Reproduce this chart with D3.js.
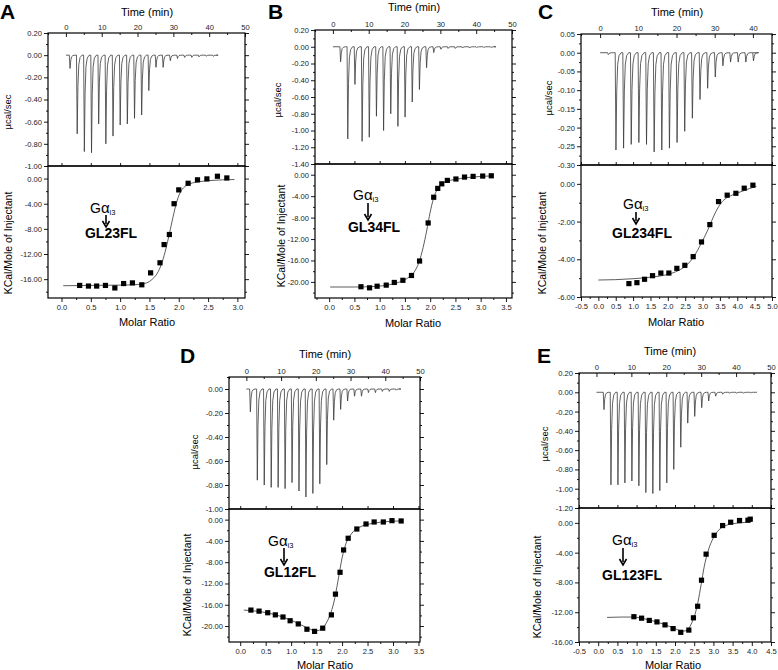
<!DOCTYPE html>
<html>
<head>
<meta charset="utf-8">
<script src="https://cdn.jsdelivr.net/npm/d3@7"></script>
<style>
  body { margin: 0; background: #fff; }
  svg { display: block; }
</style>
</head>
<body>
<div id="app"></div>
<script>
// ---- data ----
// raw thermograms: injection time (min) and peak height (ucal/sec)
const timeA = [1, 3, 5, 7, 9, 11, 13, 15, 17, 19, 21, 23, 25, 27, 29, 31, 33, 35, 37, 39, 41];
const peakA = [-0.12, -0.71, -0.87, -0.88, -0.62, -0.80, -0.73, -0.63, -0.62, -0.57, -0.54, -0.32, -0.11, -0.11, -0.05, -0.03, -0.02, -0.02, -0.015, -0.01, -0.01];
const timeB = [2, 4, 6, 8, 10, 12, 14, 16, 18, 20, 22, 24, 26, 28, 30, 32, 34, 36, 38, 40, 42, 44];
const peakB = [-0.18, -1.10, -0.45, -1.13, -1.08, -0.83, -1.00, -0.80, -0.95, -0.84, -0.66, -0.51, -0.25, -0.07, -0.03, -0.02, -0.02, -0.015, -0.015, -0.01, -0.01, -0.01];
const timeC = [2, 4, 6, 8, 10, 12, 14, 16, 18, 20, 22, 24, 26, 28, 30, 32, 34, 36, 38, 40];
const peakC = [-0.005, -0.26, -0.255, -0.245, -0.24, -0.245, -0.265, -0.26, -0.255, -0.24, -0.21, -0.175, -0.125, -0.095, -0.065, -0.035, -0.025, -0.025, -0.025, -0.022];
const timeD = [1, 3, 5, 7, 9, 11, 13, 15, 17, 19, 21, 23, 25, 27, 29, 31, 33, 35, 37, 39, 41, 43];
const peakD = [-0.19, -0.76, -0.80, -0.82, -0.82, -0.83, -0.78, -0.85, -0.90, -0.87, -0.79, -0.63, -0.26, -0.17, -0.10, -0.06, -0.06, -0.03, -0.03, -0.02, -0.02, -0.01];
const timeE = [2, 4, 6, 8, 10, 12, 14, 16, 18, 20, 22, 24, 26, 28, 30, 32, 34, 36, 38, 40, 42, 44];
const peakE = [-0.18, -0.96, -0.96, -0.94, -0.92, -0.97, -1.04, -1.05, -1.02, -0.94, -0.80, -0.57, -0.32, -0.25, -0.16, -0.09, -0.04, -0.02, -0.01, -0.01, -0.01, -0.005];

// integrated heats: molar ratio vs kcal/mol of injectant
const ratioA = [0.31, 0.46, 0.60, 0.75, 0.91, 1.06, 1.21, 1.37, 1.52, 1.68, 1.75, 1.84, 1.92, 2.00, 2.16, 2.32, 2.48, 2.66, 2.82];
const heatA = [-17.0, -17.1, -17.1, -17.0, -17.4, -16.7, -16.6, -16.9, -15.0, -13.4, -10.5, -8.9, -4.0, -1.8, -0.75, -0.2, -0.05, 0.37, 0.1];
const ratioB = [0.63, 0.80, 0.95, 1.13, 1.29, 1.46, 1.63, 1.79, 1.96, 2.07, 2.15, 2.23, 2.34, 2.51, 2.68, 2.85, 3.04, 3.21];
const heatB = [-20.9, -21.1, -20.8, -20.6, -20.1, -19.7, -18.8, -16.1, -9.0, -4.2, -2.55, -1.7, -1.06, -0.8, -0.44, -0.31, -0.25, -0.2];
const ratioC = [0.88, 1.11, 1.33, 1.56, 1.80, 2.03, 2.26, 2.49, 2.73, 2.97, 3.21, 3.46, 3.71, 3.96, 4.20, 4.45];
const heatC = [-5.29, -5.24, -5.06, -4.87, -4.73, -4.73, -4.48, -4.32, -3.86, -3.08, -2.16, -0.94, -0.60, -0.50, -0.23, -0.07];
const ratioD = [0.21, 0.37, 0.54, 0.69, 0.84, 0.98, 1.14, 1.31, 1.46, 1.62, 1.79, 1.87, 1.96, 2.03, 2.12, 2.29, 2.47, 2.63, 2.81, 2.98, 3.16];
const heatD = [-17.0, -17.2, -17.5, -17.9, -18.3, -19.0, -19.6, -20.6, -21.0, -20.4, -17.9, -14.0, -9.9, -5.7, -3.5, -1.76, -0.82, -0.44, -0.44, -0.19, -0.25];
const ratioE = [0.93, 1.13, 1.33, 1.53, 1.74, 1.95, 2.15, 2.36, 2.48, 2.59, 2.69, 2.81, 3.02, 3.24, 3.45, 3.68, 3.90, 3.96];
const heatE = [-12.6, -12.8, -13.1, -13.3, -13.7, -14.2, -14.7, -14.4, -12.75, -11.2, -7.7, -4.2, -1.67, -0.36, 0.09, 0.32, 0.36, 0.5];

// fitted curves, traced through the picture
const fitRatioA = [0.03, 0.5, 1.0, 1.3, 1.45, 1.55, 1.65, 1.72, 1.78, 1.84, 1.9, 1.96, 2.02, 2.1, 2.2, 2.35, 2.55, 2.75, 2.95];
const fitHeatA = [-17.05, -17.0, -16.95, -16.85, -16.6, -16.0, -14.8, -13.2, -11.2, -8.8, -6.2, -3.9, -2.3, -1.3, -0.8, -0.5, -0.3, -0.2, -0.15];
const fitRatioB = [0.02, 0.5, 0.9, 1.2, 1.4, 1.55, 1.68, 1.78, 1.86, 1.93, 2.0, 2.07, 2.15, 2.25, 2.4, 2.6, 2.85, 3.05, 3.21];
const fitHeatB = [-20.95, -20.95, -20.85, -20.5, -20.0, -19.3, -18.2, -16.3, -13.6, -10.5, -7.0, -4.3, -2.6, -1.6, -1.05, -0.7, -0.42, -0.3, -0.22];
const fitRatioC = [0.0, 0.5, 1.0, 1.5, 2.0, 2.3, 2.55, 2.75, 2.95, 3.15, 3.35, 3.5, 3.65, 3.85, 4.1, 4.35, 4.55];
const fitHeatC = [-5.10, -5.08, -5.03, -4.95, -4.8, -4.6, -4.3, -3.85, -3.2, -2.45, -1.6, -1.1, -0.8, -0.6, -0.42, -0.25, -0.13];
const fitRatioD = [0.07, 0.4, 0.7, 1.0, 1.2, 1.35, 1.48, 1.58, 1.68, 1.76, 1.84, 1.92, 2.0, 2.08, 2.18, 2.35, 2.6, 2.9, 3.15];
const fitHeatD = [-17.0, -17.3, -17.9, -18.9, -19.8, -20.5, -20.9, -20.7, -19.6, -18.0, -15.5, -11.5, -7.2, -4.4, -2.7, -1.4, -0.7, -0.35, -0.25];
const fitRatioE = [0.23, 0.6, 0.9, 1.3, 1.7, 2.0, 2.2, 2.32, 2.42, 2.52, 2.6, 2.68, 2.76, 2.86, 3.0, 3.15, 3.35, 3.6, 3.8, 4.0];
const fitHeatE = [-12.7, -12.65, -12.65, -13.0, -13.6, -14.2, -14.55, -14.4, -13.6, -12.3, -10.6, -8.3, -5.9, -3.8, -2.0, -0.9, -0.3, -0.05, 0.05, 0.2];

// tick labels
const timeTicks50 = [0, 10, 20, 30, 40, 50];
const timeTicks40 = [0, 10, 20, 30, 40];
const rawTicksA = [0.2, 0, -0.2, -0.4, -0.6, -0.8, -1.0];
const rawTicksB = [0.2, 0, -0.2, -0.4, -0.6, -0.8, -1.0, -1.2, -1.4];
const rawTicksC = [0.05, 0, -0.05, -0.10, -0.15, -0.20, -0.25, -0.30];
const rawTicksD = [0, -0.2, -0.4, -0.6, -0.8, -1.0];
const rawTicksE = [0.2, 0, -0.2, -0.4, -0.6, -0.8, -1.0, -1.2];
const heatTicks16 = [0, -4, -8, -12, -16];
const heatTicks20 = [0, -4, -8, -12, -16, -20];
const heatTicksC = [0, -2, -4, -6];
const ratioTicks30 = [0, 0.5, 1.0, 1.5, 2.0, 2.5, 3.0];
const ratioTicks35 = [0, 0.5, 1.0, 1.5, 2.0, 2.5, 3.0, 3.5];
const ratioTicksC = [-0.5, 0, 0.5, 1.0, 1.5, 2.0, 2.5, 3.0, 3.5, 4.0, 4.5, 5.0];
const ratioTicksE = [-0.5, 0, 0.5, 1.0, 1.5, 2.0, 2.5, 3.0, 3.5, 4.0, 4.5];

const FONT = '"Liberation Sans", Arial, Helvetica, sans-serif';

// layout of each panel
const panels = [
  { name: 'A', x0: 48, x1: 245, y0: 33, ym: 166, y1: 298,
    time: [-5, 50], raw: [-1.0, 0.2], heat: [-19, 2], ratio: [-0.23, 3.13], run: [0, 42],
    injT: timeA, injH: peakA, pX: ratioA, pY: heatA, fX: fitRatioA, fY: fitHeatA,
    tT: timeTicks50, rT: rawTicksA, hT: heatTicks16, mT: ratioTicks30,
    letter: [0, 19], timeTitle: [147, 16], molarTitle: [147, 326], ucal: [8, 112], kcal: [8, 243],
    sample: 'GL23FL', g: [90, 213], arrow: [106, 215, 227], gl: [111, 238] },
  { name: 'B', x0: 315, x1: 512, y0: 30, ym: 164, y1: 298,
    time: [-5, 50], raw: [-1.4, 0.2], heat: [-23, 2], ratio: [-0.28, 3.62], run: [0, 45],
    injT: timeB, injH: peakB, pX: ratioB, pY: heatB, fX: fitRatioB, fY: fitHeatB,
    tT: timeTicks50, rT: rawTicksB, hT: heatTicks20, mT: ratioTicks35,
    letter: [268, 19], timeTitle: [414, 11], molarTitle: [413, 327], ucal: [278, 100], kcal: [281, 236],
    sample: 'GL34FL', g: [353, 200], arrow: [368, 203, 220], gl: [374, 232] },
  { name: 'C', x0: 581, x1: 772, y0: 34, ym: 165, y1: 297,
    time: [-5, 45], raw: [-0.30, 0.05], heat: [-6, 1], ratio: [-0.5, 5.0], run: [0, 40],
    injT: timeC, injH: peakC, pX: ratioC, pY: heatC, fX: fitRatioC, fY: fitHeatC,
    tT: timeTicks40, rT: rawTicksC, hT: heatTicksC, mT: ratioTicksC,
    letter: [538, 19], timeTitle: [677, 16], molarTitle: [676, 326], ucal: [549, 98], kcal: [542, 243],
    sample: 'GL234FL', g: [623, 209], arrow: [636, 212, 224], gl: [642, 238] },
  { name: 'D', x0: 229, x1: 420, y0: 377, ym: 509, y1: 642,
    time: [-5, 50], raw: [-1.0, 0.1], heat: [-23, 2], ratio: [-0.22, 3.53], run: [0, 44],
    injT: timeD, injH: peakD, pX: ratioD, pY: heatD, fX: fitRatioD, fY: fitHeatD,
    tT: timeTicks50, rT: rawTicksD, hT: heatTicks20, mT: ratioTicks35,
    letter: [180, 363], timeTitle: [325, 358], molarTitle: [325, 669], ucal: [195, 452], kcal: [187, 585],
    sample: 'GL12FL', g: [268, 546], arrow: [284, 548, 565], gl: [290, 577] },
  { name: 'E', x0: 579, x1: 771, y0: 373, ym: 508, y1: 642,
    time: [-5, 50], raw: [-1.2, 0.2], heat: [-16, 2], ratio: [-0.5, 4.5], run: [0, 46],
    injT: timeE, injH: peakE, pX: ratioE, pY: heatE, fX: fitRatioE, fY: fitHeatE,
    tT: timeTicks50, rT: rawTicksE, hT: heatTicks16, mT: ratioTicksE,
    letter: [537, 363], timeTitle: [670, 355], molarTitle: [673, 669], ucal: [545, 444], kcal: [537, 587],
    sample: 'GL123FL', g: [612, 545], arrow: [623, 548, 565], gl: [632, 580] }
];

// shape of one injection peak: [minutes after injection, fraction of peak]
const spikeShape = [[-0.05, 0], [0.15, 1], [0.35, 0.4], [0.6, 0.12], [0.95, 0.03], [1.5, 0]];

const svg = d3.select('#app').append('svg')
  .attr('width', 778).attr('height', 670)
  .attr('font-family', FONT);

function minorOf(ticks, dom) {
  const s = Math.abs(ticks[1] - ticks[0]) / 2;
  const lo = d3.min(dom), hi = d3.max(dom);
  const first = d3.min(ticks);
  const n = Math.floor((first - lo) / s + 1e-6);
  return d3.range(first - n * s, hi + 1e-6, s)
    .filter(v => Math.abs(Math.round((v - first) / s)) % 2 === 1);
}

function addAxis(g, gen) {
  const a = g.append('g').call(gen);
  a.attr('font-size', 7.6).attr('font-family', FONT);
  a.select('.domain').remove();
  a.selectAll('line').attr('stroke', '#000').attr('stroke-width', 0.9);
  a.selectAll('text').attr('fill', '#222');
  return a;
}

const f2 = d => (Math.abs(d) < 1e-9 ? 0 : d).toFixed(2);
const f1 = d => (Math.abs(d) < 1e-9 ? 0 : d).toFixed(1);

panels.forEach(p => {
  const g = svg.append('g').attr('class', 'panel-' + p.name);

  const x = d3.scaleLinear().domain(p.time).range([p.x0, p.x1]);
  const xr = d3.scaleLinear().domain(p.ratio).range([p.x0, p.x1]);
  const yt = d3.scaleLinear().domain(p.raw).range([p.ym, p.y0]);
  const yb = d3.scaleLinear().domain(p.heat).range([p.y1, p.ym]);

  // thermogram trace
  const trace = [[p.run[0], 0]];
  p.injT.forEach((t, i) => {
    spikeShape.forEach(s => trace.push([t + s[0], p.injH[i] * s[1]]));
  });
  trace.push([p.run[1], 0]);
  g.append('path')
    .datum(trace)
    .attr('fill', 'none')
    .attr('stroke', '#3a3a3a')
    .attr('stroke-width', 0.8)
    .attr('d', d3.line().x(d => x(d[0])).y(d => yt(d[1])));

  // fit curve
  const fit = p.fX.map((v, i) => [v, p.fY[i]]);
  g.append('path')
    .datum(fit)
    .attr('fill', 'none')
    .attr('stroke', '#333')
    .attr('stroke-width', 0.8)
    .attr('d', d3.line().curve(d3.curveMonotoneX).x(d => xr(d[0])).y(d => yb(d[1])));

  // integrated heat points
  g.selectAll('rect.pt')
    .data(p.pX.map((v, i) => [v, p.pY[i]]))
    .enter()
    .append('rect')
    .attr('class', 'pt')
    .attr('x', d => xr(d[0]) - 2.6)
    .attr('y', d => yb(d[1]) - 2.6)
    .attr('width', 5.2)
    .attr('height', 5.2)
    .attr('fill', '#000');

  // frames
  g.append('rect').attr('x', p.x0).attr('y', p.y0).attr('width', p.x1 - p.x0).attr('height', p.ym - p.y0)
    .attr('fill', 'none').attr('stroke', '#000').attr('stroke-width', 1.2);
  g.append('rect').attr('x', p.x0).attr('y', p.ym).attr('width', p.x1 - p.x0).attr('height', p.y1 - p.ym)
    .attr('fill', 'none').attr('stroke', '#000').attr('stroke-width', 1.2);

  // top time axis
  addAxis(g.append('g').attr('transform', `translate(0,${p.y0})`),
    d3.axisTop(x).tickValues(p.tT).tickFormat(d3.format('d')).tickSize(-4).tickPadding(3));
  addAxis(g.append('g').attr('transform', `translate(0,${p.y0})`),
    d3.axisTop(x).tickValues(minorOf(p.tT, p.time)).tickFormat('').tickSize(-2));

  // raw y axes (left labelled, right ticks)
  addAxis(g.append('g').attr('transform', `translate(${p.x0},0)`),
    d3.axisLeft(yt).tickValues(p.rT).tickFormat(f2).tickSize(4).tickPadding(2));
  addAxis(g.append('g').attr('transform', `translate(${p.x0},0)`),
    d3.axisLeft(yt).tickValues(minorOf(p.rT, p.raw)).tickFormat('').tickSize(2));
  addAxis(g.append('g').attr('transform', `translate(${p.x1},0)`),
    d3.axisRight(yt).tickValues(p.rT).tickFormat('').tickSize(4));
  addAxis(g.append('g').attr('transform', `translate(${p.x1},0)`),
    d3.axisRight(yt).tickValues(minorOf(p.rT, p.raw)).tickFormat('').tickSize(2));

  // heat y axes
  addAxis(g.append('g').attr('transform', `translate(${p.x0},0)`),
    d3.axisLeft(yb).tickValues(p.hT).tickFormat(f2).tickSize(4).tickPadding(2));
  addAxis(g.append('g').attr('transform', `translate(${p.x0},0)`),
    d3.axisLeft(yb).tickValues(minorOf(p.hT, p.heat)).tickFormat('').tickSize(2));
  addAxis(g.append('g').attr('transform', `translate(${p.x1},0)`),
    d3.axisRight(yb).tickValues(p.hT).tickFormat('').tickSize(4));
  addAxis(g.append('g').attr('transform', `translate(${p.x1},0)`),
    d3.axisRight(yb).tickValues(minorOf(p.hT, p.heat)).tickFormat('').tickSize(2));

  // molar ratio axes (bottom labelled, top of lower frame ticks)
  addAxis(g.append('g').attr('transform', `translate(0,${p.y1})`),
    d3.axisBottom(xr).tickValues(p.mT).tickFormat(f1).tickSize(4).tickPadding(3));
  addAxis(g.append('g').attr('transform', `translate(0,${p.y1})`),
    d3.axisBottom(xr).tickValues(minorOf(p.mT, p.ratio)).tickFormat('').tickSize(2));
  addAxis(g.append('g').attr('transform', `translate(0,${p.ym})`),
    d3.axisTop(xr).tickValues(p.mT).tickFormat('').tickSize(3));

  // titles
  g.append('text').attr('x', p.letter[0]).attr('y', p.letter[1])
    .attr('font-size', 21).attr('font-weight', 'bold').text(p.name);
  g.append('text').attr('x', p.timeTitle[0]).attr('y', p.timeTitle[1])
    .attr('text-anchor', 'middle').attr('font-size', 11).text('Time (min)');
  g.append('text').attr('x', p.molarTitle[0]).attr('y', p.molarTitle[1])
    .attr('text-anchor', 'middle').attr('font-size', 11).text('Molar Ratio');
  g.append('text').attr('transform', `translate(${p.ucal[0]},${p.ucal[1]}) rotate(-90)`)
    .attr('text-anchor', 'middle').attr('dy', '0.35em').attr('font-size', 9.5).text('\u00b5cal/sec');
  g.append('text').attr('transform', `translate(${p.kcal[0]},${p.kcal[1]}) rotate(-90)`)
    .attr('text-anchor', 'middle').attr('dy', '0.35em').attr('font-size', 10.5).text('KCal/Mole of Injectant');

  // annotation
  const ga = g.append('text').attr('x', p.g[0]).attr('y', p.g[1]).attr('font-size', 14);
  ga.append('tspan').text('G');
  ga.append('tspan').attr('font-size', 15).text('\u03b1');
  ga.append('tspan').attr('font-size', 7.5).attr('dy', 2).text('i3');
  g.append('line')
    .attr('x1', p.arrow[0]).attr('x2', p.arrow[0])
    .attr('y1', p.arrow[1]).attr('y2', p.arrow[2] - 3)
    .attr('stroke', '#000').attr('stroke-width', 1.6);
  g.append('path')
    .attr('d', `M${p.arrow[0] - 3.5},${p.arrow[2] - 6} L${p.arrow[0]},${p.arrow[2]} L${p.arrow[0] + 3.5},${p.arrow[2] - 6}`)
    .attr('fill', 'none').attr('stroke', '#000').attr('stroke-width', 1.6);
  g.append('text').attr('x', p.gl[0]).attr('y', p.gl[1])
    .attr('text-anchor', 'middle').attr('font-size', 14).attr('font-weight', 'bold').text(p.sample);
});
</script>
</body>
</html>
